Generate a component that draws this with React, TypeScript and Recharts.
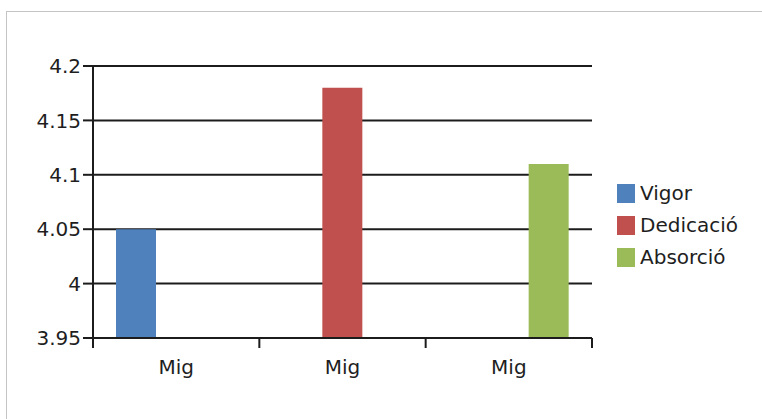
import { BarChart, Bar, XAxis, YAxis, CartesianGrid } from "recharts";

const categories = ["Mig", "Mig", "Mig"];
const vigor = [4.05, null, null];
const dedicacio = [null, 4.18, null];
const absorcio = [null, null, 4.11];
const yTicks = [3.95, 4, 4.05, 4.1, 4.15, 4.2];

const series = [
    { key: "vigor", name: "Vigor", color: "#4F81BD" },
    { key: "dedicacio", name: "Dedicació", color: "#C0504D" },
    { key: "absorcio", name: "Absorció", color: "#9BBB59" },
];

const FONT = "'DejaVu Sans', sans-serif";
const INK = "#1e1e1e";
const LINE = "#1c1c1c";
const TICK_SIZE = 10;
const TICK_MARGIN = 12;

const data = categories.map((c, i) => ({
    name: c,
    vigor: vigor[i],
    dedicacio: dedicacio[i],
    absorcio: absorcio[i],
}));

// Excel puts the category ticks between the categories, not under them
// eslint-disable-next-line @typescript-eslint/no-explicit-any
function CategoryTick(props: any) {
    const { x, y, payload, index, visibleTicksCount, width } = props;
    const half = width / visibleTicksCount / 2;
    const axisY = y - TICK_SIZE - TICK_MARGIN;
    const last = index === visibleTicksCount - 1;
    return (
        <g>
            <line x1={x - half} x2={x - half} y1={axisY} y2={axisY + TICK_SIZE} stroke={LINE} strokeWidth={2} />
            {last && (
                <line x1={x + half} x2={x + half} y1={axisY} y2={axisY + TICK_SIZE} stroke={LINE} strokeWidth={2} />
            )}
            <text x={x} y={y} dy="0.71em" textAnchor="middle" fontFamily={FONT} fontSize={20} fill={INK}>
                {payload.value}
            </text>
        </g>
    );
}

function LegendBox() {
    return (
        <div style={{ position: "absolute", left: 617, top: 177, fontFamily: FONT, fontSize: 20, color: INK }}>
            {series.map((s) => (
                <div key={s.key} style={{ display: "flex", alignItems: "center", height: 32 }}>
                    <span style={{ width: 18, height: 19, background: s.color, marginRight: 5, display: "inline-block" }} />
                    <span>{s.name}</span>
                </div>
            ))}
        </div>
    );
}

export default function App() {
    return (
        <div style={{ position: "fixed", left: 0, top: 0, width: 762, height: 419, overflow: "hidden", background: "#fff" }}>
            <div
                style={{
                    position: "absolute",
                    left: 6,
                    top: 11,
                    width: 900,
                    height: 600,
                    borderTop: "1px solid #c4c4c4",
                    borderLeft: "1px solid #c4c4c4",
                }}
            />
            <div style={{ position: "absolute", left: 0, top: 0 }}>
                <BarChart
                    width={762}
                    height={419}
                    data={data}
                    margin={{ top: 66, right: 170, bottom: 51, left: 0 }}
                    barCategoryGap={23}
                    barGap={0}
                >
                    <CartesianGrid horizontal vertical={false} stroke={LINE} strokeWidth={2} />
                    <XAxis
                        dataKey="name"
                        allowDuplicatedCategory
                        axisLine={{ stroke: LINE, strokeWidth: 2 }}
                        tickLine={false}
                        tickSize={TICK_SIZE}
                        tickMargin={TICK_MARGIN}
                        tick={<CategoryTick />}
                        height={30}
                    />
                    <YAxis
                        domain={[3.95, 4.2]}
                        ticks={yTicks}
                        allowDataOverflow
                        tickFormatter={(v) => String(v)}
                        axisLine={{ stroke: LINE, strokeWidth: 2 }}
                        tickLine={{ stroke: LINE, strokeWidth: 2 }}
                        tickSize={TICK_SIZE}
                        tick={{ fontFamily: FONT, fontSize: 20, fill: INK }}
                        width={93}
                    />
                    <YAxis
                        yAxisId="r"
                        orientation="right"
                        domain={[0, 1]}
                        tick={false}
                        tickLine={false}
                        axisLine={{ stroke: "#c4c4c4", strokeWidth: 1 }}
                        width={0}
                    />
                    {series.map((s) => (
                        <Bar key={s.key} dataKey={s.key} name={s.name} fill={s.color} isAnimationActive={false} />
                    ))}
                </BarChart>
            </div>
            <LegendBox />
        </div>
    );
}
